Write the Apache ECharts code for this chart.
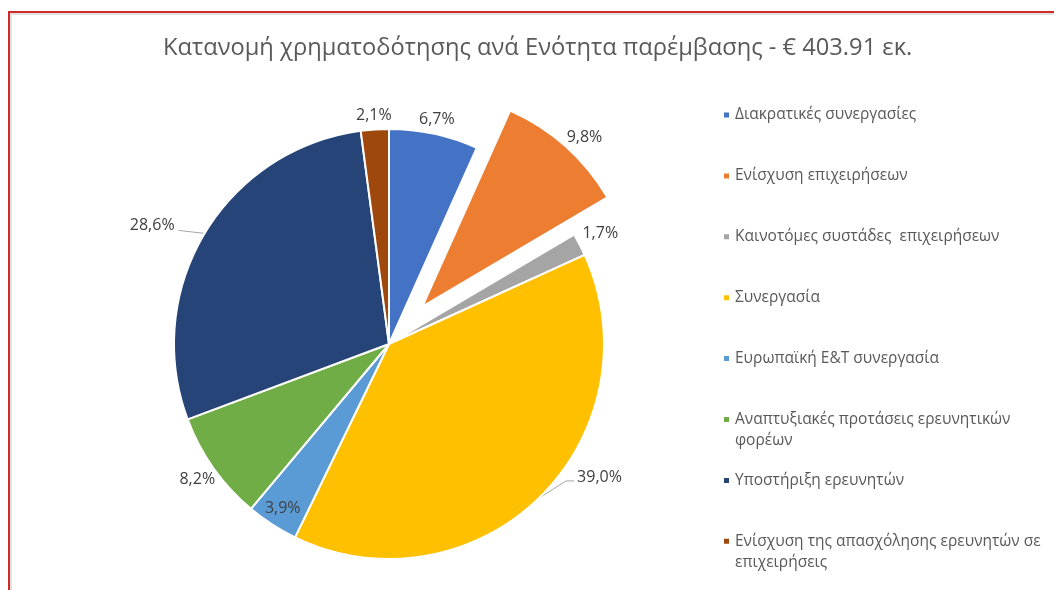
<!DOCTYPE html>
<html>
<head>
<meta charset="utf-8">
<script src="https://cdn.jsdelivr.net/npm/echarts@6/dist/echarts.min.js"></script>
<style>
  html, body { margin: 0; padding: 0; background: #fff; overflow: hidden; }
  #frame { position: absolute; left: 8px; top: 11px; width: 1200px; height: 800px;
           border-left: 2px solid #cf2a2a; border-top: 2px solid #cf2a2a;
           box-shadow: inset 2px 2px 0 #e2e2e2; }
  #chart { position: absolute; left: 0; top: 0; width: 1054px; height: 590px; }
</style>
</head>
<body>
<div id="frame"></div>
<div id="chart"></div>
<script>
const titleText = 'Κατανομή χρηματοδότησης ανά Ενότητα παρέμβασης - € 403.91 εκ.';
const categories = [
  'Διακρατικές συνεργασίες',
  'Ενίσχυση επιχειρήσεων',
  'Καινοτόμες συστάδες  επιχειρήσεων',
  'Συνεργασία',
  'Ευρωπαϊκή Ε&Τ συνεργασία',
  'Αναπτυξιακές προτάσεις ερευνητικών φορέων',
  'Υποστήριξη ερευνητών',
  'Ενίσχυση της απασχόλησης ερευνητών σε επιχειρήσεις'
];
const shares = [6.7, 9.8, 1.7, 39.0, 3.9, 8.2, 28.6, 2.1];
const colors = ['#4472C4', '#ED7D31', '#A5A5A5', '#FFC000', '#5B9BD5', '#70AD47', '#264478', '#9E480E'];
const explodedCategory = 'Ενίσχυση επιχειρήσεων';
// legend entries that wrap onto two lines (as in the reference)
const legendLines = {
  'Αναπτυξιακές προτάσεις ερευνητικών φορέων': ['Αναπτυξιακές προτάσεις ερευνητικών', 'φορέων'],
  'Ενίσχυση της απασχόλησης ερευνητών σε επιχειρήσεις': ['Ενίσχυση της απασχόλησης ερευνητών σε', 'επιχειρήσεις']
};

// label placement hints (Excel "best fit" look)
const leaderLabels = {
  'Συνεργασία': { line: [27, -17, 35, -17], text: [38, -20], align: 'left' },
  'Υποστήριξη ερευνητών': { line: [-26, -3], text: [-30, -8], align: 'right' }
};
const insideLabels = ['Ευρωπαϊκή Ε&Τ συνεργασία'];

const font = '"Open Sans", "Noto Sans", sans-serif';
const chart = echarts.init(document.getElementById('chart'), null, { renderer: 'canvas' });

const pieData = categories.map((name, i) => ({
  name: name,
  value: shares[i],
  selected: name === explodedCategory,
  itemStyle: { color: colors[i] },
  labelLine: { show: !!leaderLabels[name] }
}));

const legendCenter0 = 115, legendStep = 60.9;
const legends = categories.map((name, i) => {
  const lines = legendLines[name];
  const c = legendCenter0 + i * legendStep;
  return {
    orient: 'vertical',
    left: 717,
    top: c - 5 - (lines ? 31.5 : 10.5),
    itemWidth: 7,
    itemHeight: 7,
    icon: 'rect',
    selectedMode: false,
    data: [name],
    formatter: lines ? ('\n' + lines.join('\n')) : '{name}',
    textStyle: {
      color: '#595959',
      fontSize: 15.5,
      fontFamily: font,
      lineHeight: 21
    }
  };
});

function layoutLabel(p) {
  const pts = p.labelLinePoints;
  if (!pts) return {};
  const name = categories[p.dataIndex];
  const p0 = pts[0], p1 = pts[1];
  let ux = p1[0] - p0[0], uy = p1[1] - p0[1];
  const n = Math.hypot(ux, uy) || 1;
  ux /= n; uy /= n;
  const hint = leaderLabels[name];
  if (hint) {
    const linePts = [p0.slice()];
    for (let k = 0; k < hint.line.length; k += 2) {
      linePts.push([p0[0] + hint.line[k], p0[1] + hint.line[k + 1]]);
    }
    return {
      x: p0[0] + hint.text[0],
      y: p0[1] + hint.text[1],
      align: hint.align,
      verticalAlign: 'middle',
      labelLinePoints: linePts
    };
  }
  const w = p.labelRect.width, h = p.labelRect.height;
  const t = Math.min(Math.abs(ux) > 1e-6 ? w / 2 / Math.abs(ux) : 1e9,
                     Math.abs(uy) > 1e-6 ? h / 2 / Math.abs(uy) : 1e9);
  const d = insideLabels.includes(name) ? -(t + 10) : (t + 6);
  return {
    x: p0[0] + ux * d,
    y: p0[1] + uy * d,
    align: 'center',
    verticalAlign: 'middle'
  };
}

chart.setOption({
  animation: false,
  color: colors,
  title: {
    text: titleText,
    left: 158,
    top: 31,
    textStyle: { color: '#595959', fontSize: 23.7, fontWeight: 'normal', fontFamily: font }
  },
  legend: legends,
  series: [{
    type: 'pie',
    center: [389, 344],
    radius: 215,
    startAngle: 90,
    clockwise: true,
    selectedMode: 'single',
    selectedOffset: 50,
    avoidLabelOverlap: false,
    itemStyle: { borderColor: '#ffffff', borderWidth: 2 },
    label: {
      show: true,
      position: 'outside',
      formatter: p => p.value.toFixed(1).replace('.', ',') + '%',
      color: '#404040',
      fontSize: 16,
      fontFamily: font
    },
    labelLine: { length: 12, length2: 6, lineStyle: { color: '#a6a6a6', width: 1 } },
    labelLayout: layoutLabel,
    emphasis: { disabled: true },
    data: pieData
  }]
});
</script>
</body>
</html>
